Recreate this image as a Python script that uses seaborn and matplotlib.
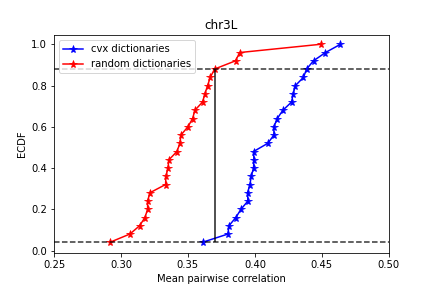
import matplotlib
matplotlib.use('Agg')
import matplotlib.pyplot as plt
import numpy as np
import pandas as pd
import seaborn as sns

# ECDF 값 (25개씩)
ecdf = np.arange(1, 26) / 25

cvx = [0.3609, 0.3799, 0.3806, 0.3858, 0.3896, 0.3948, 0.3945, 0.3963, 0.3973,
       0.3990, 0.3993, 0.3990, 0.4097, 0.4142, 0.4142, 0.4167, 0.4209, 0.4274,
       0.4286, 0.4303, 0.4363, 0.4386, 0.4438, 0.4527, 0.4639]
rnd = [0.2918, 0.3067, 0.3139, 0.3179, 0.3199, 0.3199, 0.3216, 0.3333, 0.3336,
       0.3351, 0.3358, 0.3418, 0.3440, 0.3448, 0.3500, 0.3535, 0.3552, 0.3609,
       0.3627, 0.3647, 0.3667, 0.3699, 0.3856, 0.3886, 0.4490]

ks_x = 0.37
ks_lo, ks_hi = 0.04, 0.88

df_cvx = pd.DataFrame({'corr': cvx, 'ecdf': ecdf})
df_rnd = pd.DataFrame({'corr': rnd, 'ecdf': ecdf})

fig, ax = plt.subplots(figsize=(6, 4), dpi=72)
fig.subplots_adjust(left=0.125, right=0.9, bottom=0.123, top=0.877)
sns.lineplot(data=df_cvx, x='corr', y='ecdf', marker='*', markersize=8, color='blue',
             sort=False, estimator=None, label='cvx dictionaries', ax=ax, markeredgecolor='blue')
sns.lineplot(data=df_rnd, x='corr', y='ecdf', marker='*', markersize=8, color='red',
             sort=False, estimator=None, label='random dictionaries', ax=ax, markeredgecolor='red')

# KS 통계량 표시
ax.axhline(ks_lo, color='k', linestyle='--', alpha=0.8)
ax.axhline(ks_hi, color='k', linestyle='--', alpha=0.8)
ax.vlines(ks_x, ks_lo, ks_hi, color='k', alpha=0.75, linewidth=1.8)

ax.set_xlim(0.25, 0.50)
ax.set_ylim(-0.01, 1.043)
ax.set_xlabel('Mean pairwise correlation')
ax.set_ylabel('ECDF')
ax.set_title('chr3L')
ax.legend(loc='upper left')
plt.savefig('out.png', dpi=72)
